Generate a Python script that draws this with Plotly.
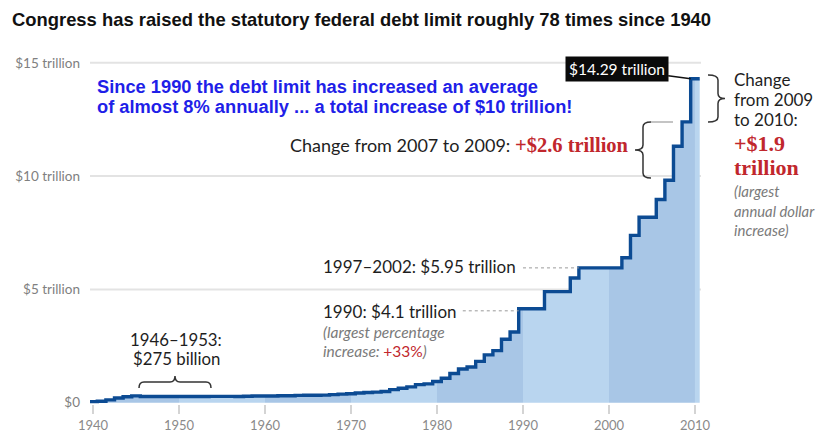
import plotly.graph_objects as go

# ---------------- data ----------------
years = list(range(1940, 2011))
limits = [  # statutory debt limit, trillions of dollars
    0.049, 0.065, 0.125, 0.210, 0.260, 0.300, 0.275, 0.275, 0.275, 0.275,   # 1940-1949
    0.275, 0.275, 0.275, 0.275, 0.281, 0.281, 0.278, 0.275, 0.288, 0.295,   # 1950-1959
    0.293, 0.298, 0.308, 0.309, 0.324, 0.328, 0.330, 0.336, 0.358, 0.377,   # 1960-1969
    0.395, 0.430, 0.450, 0.465, 0.495, 0.577, 0.636, 0.700, 0.798, 0.830,   # 1970-1979
    0.935, 1.079, 1.290, 1.490, 1.573, 1.824, 2.111, 2.300, 2.800, 3.123,   # 1980-1989
    4.145, 4.145, 4.145, 4.900, 4.900, 4.900, 5.500, 5.950, 5.950, 5.950,   # 1990-1999
    5.950, 5.950, 6.400, 7.384, 8.184, 8.184, 8.965, 9.815, 11.315, 12.394, # 2000-2009
    14.294,                                                                 # 2010
]
tick_years = [1940, 1950, 1960, 1970, 1980, 1990, 2000, 2010]
y_ticks = [0, 5, 10, 15]
y_tick_labels = ["$0", "$5 trillion", "$10 trillion", "$15 trillion"]

# ---------------- geometry ----------------
W, H = 817, 436
L, R, T, B = 90, 116, 55, 32
X0, X1 = 1939.65, 2010.70
Y0, Y1 = -0.057, 15.344


def px(x):
    return (x - L) / (W - L - R)


def py(y):
    return (H - B - y) / (H - T - B)


# step edges: each year's limit starts half a year before the year mark
xs = [y - 0.5 for y in years] + [years[-1] + 0.55]
ys = limits + [limits[-1]]


def value_at(x):
    v = ys[0]
    for xe, ve in zip(xs, ys):
        if xe <= x:
            v = ve
    return v


def band(a, b):
    a = max(a, xs[0])
    b = min(b, xs[-1])
    bx, by = [a], [value_at(a)]
    for xe, ve in zip(xs, ys):
        if a < xe < b:
            bx.append(xe)
            by.append(ve)
    bx.append(b)
    by.append(by[-1])
    return bx, by


fig = go.Figure()

LIGHT = "#b9d5ef"
DARK = "#a8c6e6"
edges = [1930, 1940, 1950, 1960, 1970, 1980, 1990, 2000, 2010, 2020]
for i in range(len(edges) - 1):
    a, b = edges[i], edges[i + 1]
    if b <= xs[0] or a >= xs[-1]:
        continue
    bx, by = band(a, b)
    col = DARK if (a // 10) % 2 == 0 else LIGHT
    fig.add_trace(go.Scatter(x=bx, y=by, mode="lines", line=dict(width=0, shape="hv"),
                             fill="tozeroy", fillcolor=col, hoverinfo="skip", showlegend=False))

fig.add_trace(go.Scatter(x=xs, y=ys, mode="lines",
                         line=dict(color="#0c4b93", width=3.4, shape="hv"),
                         showlegend=False, hoverinfo="skip"))

shapes = []
for v in y_ticks[1:]:
    shapes.append(dict(type="line", xref="paper", yref="y", x0=0, x1=1, y0=v, y1=v,
                       line=dict(color="#e3e3e3", width=2), layer="below"))

# dotted leaders
i97 = years.index(1997)
i90 = years.index(1990)
shapes.append(dict(type="line", xref="x", yref="y", x0=1990.0, x1=xs[i97], y0=limits[i97], y1=limits[i97],
                   line=dict(color="#9a9a9a", width=1, dash="dot")))
shapes.append(dict(type="line", xref="x", yref="y", x0=1983.0, x1=xs[i90], y0=limits[i90] - 0.09, y1=limits[i90] - 0.09,
                   line=dict(color="#9a9a9a", width=1, dash="dot")))


def P(x, y):
    return f"{px(x):.5f},{py(y):.5f}"


def vbrace(x0, x1, xm, yt, yb, r=5):
    ym = (yt + yb) / 2
    return (f"M {P(x0, yt)} Q {P(xm, yt)} {P(xm, yt + r)} L {P(xm, ym - r)} "
            f"Q {P(xm, ym)} {P(x1, ym)} Q {P(xm, ym)} {P(xm, ym + r)} "
            f"L {P(xm, yb - r)} Q {P(xm, yb)} {P(x0, yb)}")


def hbrace(xl, xr, y0, ym, ytip, r=5):
    xc = (xl + xr) / 2
    return (f"M {P(xl, y0)} Q {P(xl, ym)} {P(xl + r, ym)} L {P(xc - r, ym)} "
            f"Q {P(xc, ym)} {P(xc, ytip)} Q {P(xc, ym)} {P(xc + r, ym)} "
            f"L {P(xr - r, ym)} Q {P(xr, ym)} {P(xr, y0)}")


brace_line = dict(color="#333333", width=1.5)
shapes.append(dict(type="path", xref="paper", yref="paper", path=vbrace(708, 725, 718, 75, 122), line=brace_line))
shapes.append(dict(type="path", xref="paper", yref="paper", path=vbrace(651, 635, 643, 122, 178), line=brace_line))
shapes.append(dict(type="line", xref="paper", yref="paper", x0=px(651), x1=px(673), y0=py(122), y1=py(122),
                   line=dict(color="#b0b0b0", width=1.5)))
shapes.append(dict(type="path", xref="paper", yref="paper", path=hbrace(139, 211, 388, 382, 376), line=brace_line))

GILL = "Lato"
SERIF = "Liberation Serif"
BLACK = "#1e1e1e"
GRAY = "#7a7a7a"
RED = "#c1272d"


def txt(s, x, y, size, color=BLACK, family=GILL, xanchor="left"):
    return dict(text=s, xref="paper", yref="paper", x=px(x), y=py(y), xanchor=xanchor, yanchor="middle",
                showarrow=False, borderpad=0, font=dict(family=family, size=size, color=color))


ann = []
ann.append(txt("<b>Congress has raised the statutory federal debt limit roughly 78 times since 1940</b>",
               11, 20, 18.4, color="#111111", family="Liberation Sans"))
ann.append(txt("<b>Since 1990 the debt limit has increased an average</b>", 96, 86, 18.3, color="#1f1fe8", family="Liberation Sans"))
ann.append(txt("<b>of almost 8% annually ... a total increase of $10 trillion!</b>", 96, 106, 18.3, color="#1f1fe8", family="Liberation Sans"))

# $14.29 trillion label
ann.append(dict(text="$14.29 trillion", x=xs[-2], y=limits[-1], xref="x", yref="y",
                ax=-74, ay=-10, showarrow=True, arrowhead=0, arrowwidth=1.5, arrowcolor="#111111",
                bgcolor="#0a0a0a", borderpad=3, font=dict(family=GILL, size=15.5, color="white")))

ann.append(txt(f"Change from 2007 to 2009: <span style=\"font-family:{SERIF};color:{RED};font-size:20.5px\"><b>+$2.6 trillion</b></span>",
               630, 145, 18, xanchor="right"))

ann.append(txt("Change", 733, 80, 17))
ann.append(txt("from 2009", 733, 100, 17))
ann.append(txt("to 2010:", 733, 120, 17))
ann.append(txt("<b>+$1.9</b>", 733, 143, 22, color=RED, family=SERIF))
ann.append(txt("<b>trillion</b>", 733, 167, 22, color=RED, family=SERIF))
ann.append(txt("<i>(largest</i>", 733, 191, 15, color=GRAY))
ann.append(txt("<i>annual dollar</i>", 733, 211, 14.8, color=GRAY))
ann.append(txt("<i>increase)</i>", 733, 230, 15, color=GRAY))

ann.append(txt("1997–2002: $5.95 trillion", 322, 266, 17))
ann.append(txt("1990: $4.1 trillion", 322, 311, 17))
ann.append(txt("<i>(largest percentage</i>", 322, 331.5, 15.5, color=GRAY))
ann.append(txt(f"<i>increase: </i><span style=\"color:{RED}\">+33%</span><i>)</i>", 322, 351, 15.5, color=GRAY))

ann.append(txt("1946–1953:", 176, 339.5, 16.8, xanchor="center"))
ann.append(txt("$275 billion", 176, 358.5, 16.8, xanchor="center"))

fig.update_layout(
    width=W, height=H,
    margin=dict(l=L, r=R, t=T, b=B, autoexpand=False),
    plot_bgcolor="white", paper_bgcolor="white",
    shapes=shapes, annotations=ann,
    showlegend=False,
)
fig.update_xaxes(range=[X0, X1], tickvals=tick_years, ticks="outside", ticklen=9, tickwidth=2,
                 tickcolor="#d4d4d4", showgrid=False, zeroline=False, showline=False, automargin=False,
                 tickfont=dict(family=GILL, size=13, color="#8a8a8a"))
fig.update_yaxes(range=[Y0, Y1], tickvals=y_ticks, ticktext=y_tick_labels, showgrid=False, zeroline=False,
                 ticks="", showline=False, ticklabelstandoff=9, automargin=False,
                 tickfont=dict(family=GILL, size=13.5, color="#808080"))

fig.write_html("out.html", config={"displayModeBar": False},
               post_script="document.body.style.margin='0px';")
